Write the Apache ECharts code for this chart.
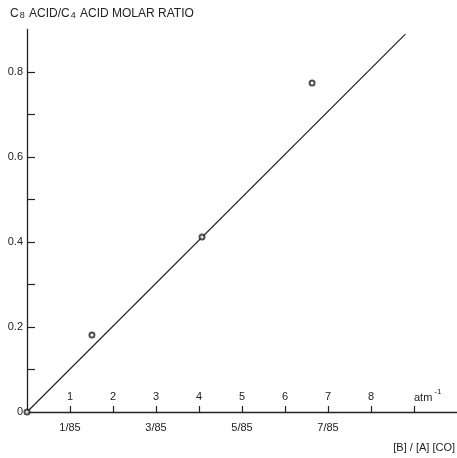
<!DOCTYPE html>
<html>
<head>
<meta charset="utf-8">
<script src="https://cdn.jsdelivr.net/npm/echarts@6/dist/echarts.min.js"></script>
<style>html,body{margin:0;padding:0;background:#fff}#c{width:457px;height:458px}</style>
</head>
<body>
<div id="c"></div>
<script>
// Data
const pointsX = [0, 1.51, 4.07, 6.63];
const pointsY = [0, 0.181, 0.412, 0.774];
const fitX = [0, 8.8];
const fitY = [0, 0.889];
const topTickLabels = [1, 2, 3, 4, 5, 6, 7, 8];
const xTicks = [1, 2, 3, 4, 5, 6, 7, 8, 9];
const bottomTickValues = [1, 3, 5, 7];
const bottomTickLabels = ['1/85', '3/85', '5/85', '7/85'];
const yTicks = [0.1, 0.2, 0.3, 0.4, 0.5, 0.6, 0.7, 0.8];
const yLabelValues = [0, 0.2, 0.4, 0.6, 0.8];

const ink = '#222';
const font = 'Liberation Sans';
const chart = echarts.init(document.getElementById('c'));
chart.setOption({
  animation: false,
  backgroundColor: '#fff',
  grid: {left: 27, right: 0, top: 29.5, bottom: 46},
  xAxis: [
    {
      type: 'value', min: 0, max: 10, position: 'bottom',
      splitLine: {show: false},
      axisLine: {show: true, onZero: false, lineStyle: {color: ink, width: 1.3}},
      axisTick: {show: true, inside: true, length: 6, customValues: xTicks, lineStyle: {color: ink, width: 1.2}},
      axisLabel: {show: true, inside: true, margin: 10, customValues: topTickLabels,
        color: ink, fontFamily: font, fontSize: 11, formatter: v => String(v)}
    },
    {
      type: 'value', min: 0, max: 10, position: 'bottom',
      splitLine: {show: false},
      axisLine: {show: false},
      axisTick: {show: false},
      axisLabel: {show: true, margin: 10, customValues: bottomTickValues, color: ink,
        fontFamily: font, fontSize: 11,
        formatter: v => bottomTickLabels[bottomTickValues.indexOf(v)] || ''}
    }
  ],
  yAxis: {
    type: 'value', min: 0, max: 0.9,
    splitLine: {show: false},
    axisLine: {show: true, onZero: false, lineStyle: {color: ink, width: 1.3}},
    axisTick: {show: true, inside: true, length: 8, customValues: yTicks, lineStyle: {color: ink, width: 1.2}},
    axisLabel: {show: true, margin: 4, customValues: yLabelValues, color: ink,
      fontFamily: font, fontSize: 11, formatter: v => v === 0 ? '0' : v.toFixed(1)}
  },
  series: [
    {
      type: 'line', xAxisIndex: 0, data: fitX.map((x, i) => [x, fitY[i]]),
      symbol: 'none', lineStyle: {color: ink, width: 1.2}, silent: true, z: 2
    },
    {
      type: 'scatter', xAxisIndex: 0, data: pointsX.map((x, i) => [x, pointsY[i]]),
      symbol: 'emptyCircle', symbolSize: 5, z: 5,
      itemStyle: {color: ink, borderColor: ink, borderWidth: 1.2}
    }
  ],
  graphic: [
    {
      type: 'text', left: 10, top: 8,
      style: {
        text: '{m|C}{s|8}{m| ACID/C}{s|4}{m| ACID MOLAR RATIO}',
        rich: {
          m: {fontFamily: font, fontSize: 12, fill: ink, verticalAlign: 'bottom'},
          s: {fontFamily: font, fontSize: 9, fill: ink, padding: [4, 1, 0, 1], verticalAlign: 'bottom'}
        }
      }
    },
    {
      type: 'text', left: 414, top: 388,
      style: {
        text: '{m|atm}{s|-1}',
        rich: {
          m: {fontFamily: font, fontSize: 11, fill: ink, padding: [6, 2, 0, 0]},
          s: {fontFamily: font, fontSize: 8, fill: ink, padding: [0, 0, 6, 0]}
        }
      }
    },
    {
      type: 'text', right: 2, top: 442,
      style: {text: '[B] / [A] [CO]', fontFamily: font, fontSize: 11, fill: ink}
    }
  ]
});
</script>
</body>
</html>
